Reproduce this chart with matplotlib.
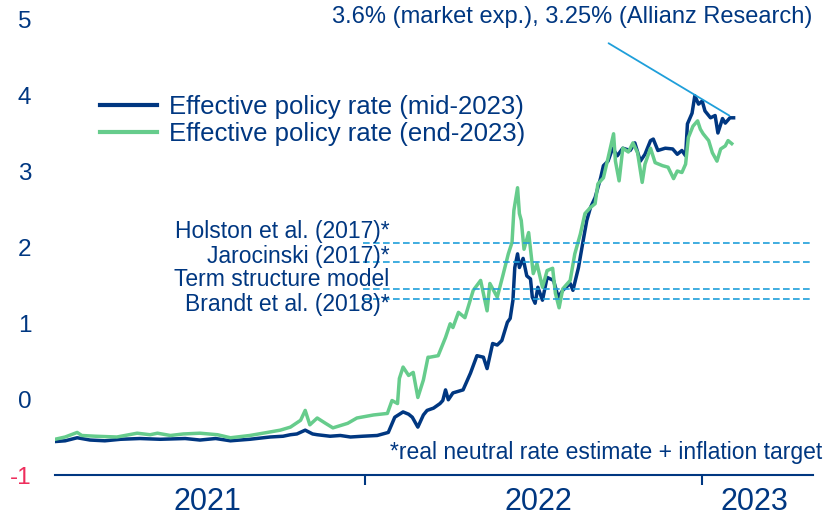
import pandas as pd
import matplotlib.pyplot as plt

# effective policy rate, priced in mid-2023
mid_dates = [
    "2021-01-30", "2021-02-10", "2021-02-23", "2021-03-09", "2021-03-25", "2021-04-11",
    "2021-05-02", "2021-05-24", "2021-06-20", "2021-07-06", "2021-07-23", "2021-08-08",
    "2021-08-29", "2021-09-20", "2021-10-04", "2021-10-12", "2021-10-19", "2021-10-28",
    "2021-11-05", "2021-11-10", "2021-11-24", "2021-12-05", "2021-12-16", "2021-12-29",
    "2022-01-14", "2022-01-26", "2022-02-02", "2022-02-11", "2022-02-17", "2022-02-21",
    "2022-02-27", "2022-03-05", "2022-03-09", "2022-03-16", "2022-03-23", "2022-03-26",
    "2022-03-29", "2022-04-01", "2022-04-06", "2022-04-17", "2022-04-25", "2022-05-02",
    "2022-05-09", "2022-05-13", "2022-05-19", "2022-05-24", "2022-05-29", "2022-06-04",
    "2022-06-07", "2022-06-10", "2022-06-12", "2022-06-15", "2022-06-17", "2022-06-21",
    "2022-06-25", "2022-06-29", "2022-07-01", "2022-07-04", "2022-07-07", "2022-07-12",
    "2022-07-17", "2022-07-24", "2022-07-29", "2022-08-03", "2022-08-11", "2022-08-14",
    "2022-08-20", "2022-08-25", "2022-08-29", "2022-09-02", "2022-09-07", "2022-09-13",
    "2022-09-16", "2022-09-21", "2022-09-26", "2022-10-01", "2022-10-07", "2022-10-15",
    "2022-10-20", "2022-10-26", "2022-10-31", "2022-11-06", "2022-11-09", "2022-11-14",
    "2022-11-22", "2022-11-30", "2022-12-05", "2022-12-10", "2022-12-14", "2022-12-16",
    "2022-12-21", "2022-12-24", "2022-12-28", "2023-01-01", "2023-01-04", "2023-01-10",
    "2023-01-15", "2023-01-18", "2023-01-23", "2023-01-26", "2023-01-31", "2023-02-04",
]
mid_rate = [
    -0.56, -0.55, -0.51, -0.54, -0.55, -0.53,
    -0.52, -0.53, -0.52, -0.54, -0.52, -0.55,
    -0.53, -0.50, -0.49, -0.47, -0.46, -0.41,
    -0.46, -0.47, -0.49, -0.48, -0.50, -0.49,
    -0.48, -0.44, -0.24, -0.17, -0.20, -0.24,
    -0.37, -0.21, -0.15, -0.12, -0.06, -0.02,
    0.12, -0.01, 0.08, 0.12, 0.34, 0.57,
    0.55, 0.40, 0.73, 0.71, 0.77, 1.01,
    1.06, 1.30, 1.73, 1.91, 1.73, 1.85,
    1.62, 1.58, 1.34, 1.26, 1.47, 1.30,
    1.60, 1.56, 1.34, 1.43, 1.52, 1.43,
    1.73, 2.08, 2.35, 2.52, 2.65, 2.91,
    3.07, 3.13, 3.30, 3.20, 3.30, 3.27,
    3.37, 3.13, 3.22, 3.40, 3.42, 3.27,
    3.30, 3.29, 3.22, 3.27, 3.20, 3.62,
    3.76, 3.99, 3.88, 3.92, 3.79, 3.70,
    3.73, 3.50, 3.69, 3.63, 3.70, 3.70,
]

# effective policy rate, priced in end-2023
end_dates = [
    "2021-01-30", "2021-02-10", "2021-02-23", "2021-02-28", "2021-03-15", "2021-04-07",
    "2021-04-29", "2021-05-13", "2021-05-21", "2021-06-04", "2021-06-18", "2021-07-06",
    "2021-07-25", "2021-08-08", "2021-08-29", "2021-09-17", "2021-10-01", "2021-10-12",
    "2021-10-23", "2021-10-28", "2021-11-02", "2021-11-10", "2021-11-19", "2021-11-27",
    "2021-12-13", "2021-12-23", "2022-01-10", "2022-01-25", "2022-01-30", "2022-02-05",
    "2022-02-07", "2022-02-11", "2022-02-17", "2022-02-22", "2022-02-27", "2022-03-05",
    "2022-03-10", "2022-03-12", "2022-03-21", "2022-03-29", "2022-04-03", "2022-04-06",
    "2022-04-12", "2022-04-19", "2022-04-28", "2022-05-06", "2022-05-13", "2022-05-16",
    "2022-05-24", "2022-05-30", "2022-06-05", "2022-06-09", "2022-06-11", "2022-06-15",
    "2022-06-17", "2022-06-19", "2022-06-22", "2022-06-27", "2022-07-02", "2022-07-06",
    "2022-07-12", "2022-07-17", "2022-07-23", "2022-07-26", "2022-07-30", "2022-08-03",
    "2022-08-11", "2022-08-16", "2022-08-22", "2022-08-27", "2022-09-02", "2022-09-07",
    "2022-09-10", "2022-09-16", "2022-09-21", "2022-09-27", "2022-09-29", "2022-10-03",
    "2022-10-07", "2022-10-13", "2022-10-18", "2022-10-23", "2022-10-28", "2022-10-31",
    "2022-11-06", "2022-11-11", "2022-11-19", "2022-11-25", "2022-12-01", "2022-12-05",
    "2022-12-10", "2022-12-14", "2022-12-17", "2022-12-22", "2022-12-27", "2022-12-30",
    "2023-01-02", "2023-01-08", "2023-01-12", "2023-01-17", "2023-01-21", "2023-01-26",
    "2023-01-29", "2023-02-02",
]
end_rate = [
    -0.53, -0.50, -0.44, -0.48, -0.49, -0.50,
    -0.45, -0.47, -0.45, -0.48, -0.46, -0.45,
    -0.47, -0.51, -0.48, -0.44, -0.41, -0.37,
    -0.28, -0.15, -0.34, -0.25, -0.32, -0.38,
    -0.32, -0.25, -0.21, -0.19, -0.02, -0.06,
    0.27, 0.42, 0.31, 0.35, 0.02, 0.25,
    0.55, 0.55, 0.57, 0.81, 0.99, 0.94,
    1.14, 1.07, 1.43, 1.56, 1.16, 1.52,
    1.34, 1.62, 1.91, 2.06, 2.48, 2.78,
    2.44, 2.35, 1.97, 2.19, 1.65, 1.78,
    1.47, 1.69, 1.72, 1.39, 1.20, 1.45,
    1.56, 1.91, 2.17, 2.44, 2.52, 2.57,
    2.83, 2.91, 3.17, 3.49, 3.13, 2.87,
    3.30, 3.25, 3.37, 3.24, 2.85, 3.09,
    3.30, 3.11, 3.07, 3.05, 2.90, 3.00,
    2.98, 3.09, 3.44, 3.59, 3.66, 3.55,
    3.49, 3.40, 3.24, 3.13, 3.29, 3.33,
    3.40, 3.36,
]

# neutral rate estimates (dashed lines)
neutral_labels = ["Holston et al. (2017)*", "Jarocinski (2017)*",
                  "Term structure model", "Brandt et al. (2018)*"]
neutral_values = [2.05, 1.80, 1.45, 1.32]
neutral_label_y = [2.21, 1.87, 1.57, 1.24]

years = ["2021", "2022", "2023"]
year_mid = ["2021-07-14", "2022-07-08", "2023-02-27"]
year_starts = ["2022-01-01", "2023-01-01"]
yticks = [-1, 0, 1, 2, 3, 4, 5]

navy = "#003781"
green = "#66cc8c"
cyan = "#1f9fda"
red = "#ee2d5c"

plt.rcParams["font.family"] = ["Liberation Sans", "DejaVu Sans"]

fig = plt.figure(figsize=(8.24, 5.16), dpi=100)
ax = fig.add_axes([55 / 824, 41 / 516, 758 / 824, 456 / 516])

ax.plot(pd.to_datetime(mid_dates), mid_rate, color=navy, lw=2.5,
        label="Effective policy rate (mid-2023)", zorder=2)
ax.plot(pd.to_datetime(end_dates), end_rate, color=green, lw=2.5,
        label="Effective policy rate (end-2023)", zorder=2)

line_start = pd.Timestamp("2021-12-30")
x_end = pd.Timestamp("2023-05-01")
for lab, v, ly in zip(neutral_labels, neutral_values, neutral_label_y):
    ax.plot([line_start, x_end], [v, v], color=cyan, lw=1.2, ls=(0, (4, 2)), zorder=3)
    ax.text(pd.Timestamp("2022-01-27"), ly, lab, ha="right", va="center",
            fontsize=16.5, color=navy)

# leader line to the rate expectations
ax.annotate("", xy=(pd.Timestamp("2023-02-02"), 3.71),
            xytext=(pd.Timestamp("2022-09-19"), 4.70),
            arrowprops=dict(arrowstyle="-", color=cyan, lw=1.3))
fig.text(812 / 824, 1 - 17 / 516, "3.6% (market exp.), 3.25% (Allianz Research)",
         ha="right", va="center", fontsize=17, color=navy)
fig.text(822 / 824, 1 - 453 / 516, "*real neutral rate estimate + inflation target",
         ha="right", va="center", fontsize=16.5, color=navy)

ax.set_xlim(pd.Timestamp("2021-01-30"), x_end)
ax.set_ylim(-1, 5)

ax.set_yticks(yticks)
ax.set_yticklabels([str(t) for t in yticks])
ax.tick_params(axis="y", length=0, pad=17, labelsize=17.5, labelcolor=navy)
ax.get_yticklabels()[0].set_color(red)

ax.set_xticks(pd.to_datetime(year_starts))
ax.set_xticklabels([])
ax.set_xticks(pd.to_datetime(year_mid), minor=True)
ax.set_xticklabels(years, minor=True)
ax.tick_params(axis="x", which="major", direction="out", length=7, width=1.5, color=navy)
ax.tick_params(axis="x", which="minor", length=0, pad=9, labelsize=22, labelcolor=navy)

for s in ["top", "right", "left"]:
    ax.spines[s].set_visible(False)
ax.spines["bottom"].set_color(navy)
ax.spines["bottom"].set_linewidth(1.5)

fig.legend(loc="upper left", bbox_to_anchor=(100 / 824, 1 - 95 / 516),
           frameon=False, fontsize=18.5, handlelength=2.2, handletextpad=0.5,
           labelspacing=0.12, borderpad=0, borderaxespad=0, labelcolor=navy)
leg = fig.legends[0]
for h in leg.legend_handles:
    h.set_linewidth(3)

fig.savefig("out.png", dpi=100)
